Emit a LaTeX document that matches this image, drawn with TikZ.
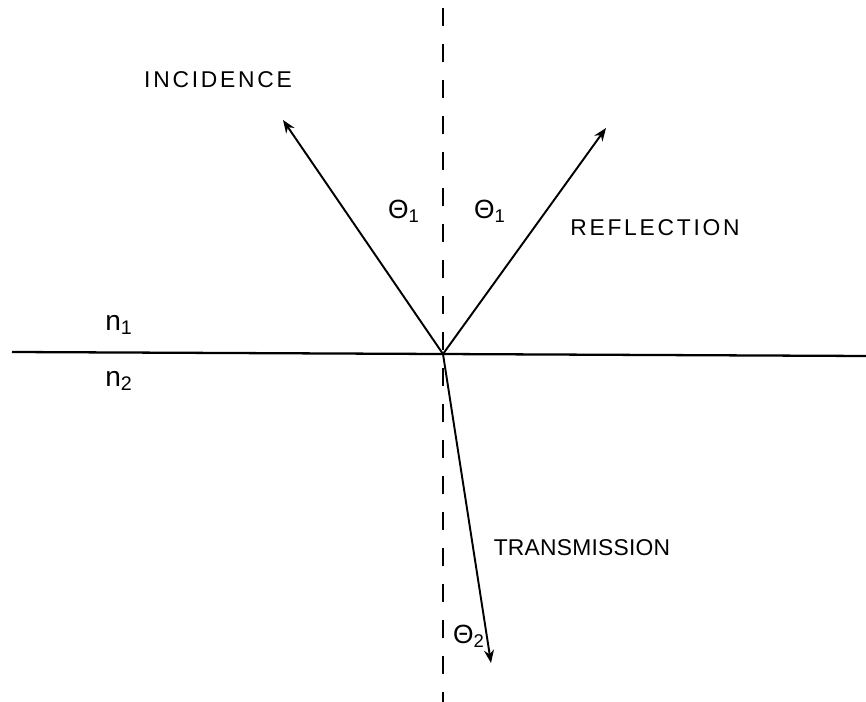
\documentclass[tikz,border=0pt]{standalone}
\usepackage{fontspec}
\setmainfont{Liberation Sans}
\usepackage{tikz}
\usetikzlibrary{arrows.meta, positioning}

\begin{document}
\begin{tikzpicture}[
        x=0.02cm, y=-0.02cm,
        ray/.style={
            line width=1.1pt,
            -{Stealth[length=2.6mm, width=2mm]}
        },
        normal/.style={
            line width=1.1pt,
            dash pattern=on 0.36cm off 0.36cm
        },
        surface/.style={
            line width=1.3pt
        },
        lbl/.style={
            font=\fontsize{13}{15}\selectfont\addfontfeature{LetterSpace=12},
            inner sep=0pt
        },
        idx/.style={
            font=\fontsize{16}{18}\selectfont,
            inner sep=0pt
        },
        ang/.style={
            font=\fontsize{15}{17}\selectfont,
            inner sep=0pt
        }
        ]

        \useasboundingbox (0,0) rectangle (866,702);

        % interface and normal
        \coordinate (o) at (443,354);
        \coordinate (sl) at (12,352);
        \coordinate (sr) at (866,356);
        \coordinate (nt) at (443,8);
        \coordinate (nb) at (443,702);

        \draw [surface] (sl) -- (sr);
        \draw [normal] (nt) -- (nb);

        % rays
        \coordinate (inc) at (283,120);
        \coordinate (ref) at (606,128);
        \coordinate (tra) at (491,663);

        \draw [ray] (o) -- (inc);
        \draw [ray] (o) -- (ref);
        \draw [ray] (o) -- (tra);

        % labels
        \node (incl) [lbl] at (218,80) {INCIDENCE};
        \node (refl) [lbl] at (655,228) {REFLECTION};
        \node (tral) [lbl, font=\fontsize{13}{15}\selectfont\addfontfeature{LetterSpace=1}] at (582,548) {TRANSMISSION};

        \node (n1) [idx] at (119,325) {n\textsubscript{1}};
        \node (n2) [idx] at (119,381) {n\textsubscript{2}};

        \node (t1) [ang] at (404,211) {Θ\textsubscript{1}};
        \node (t1r) [ang] at (490,211) {Θ\textsubscript{1}};
        \node (t2) [ang] at (469,636) {Θ\textsubscript{2}};

    \end{tikzpicture}
\end{document}
